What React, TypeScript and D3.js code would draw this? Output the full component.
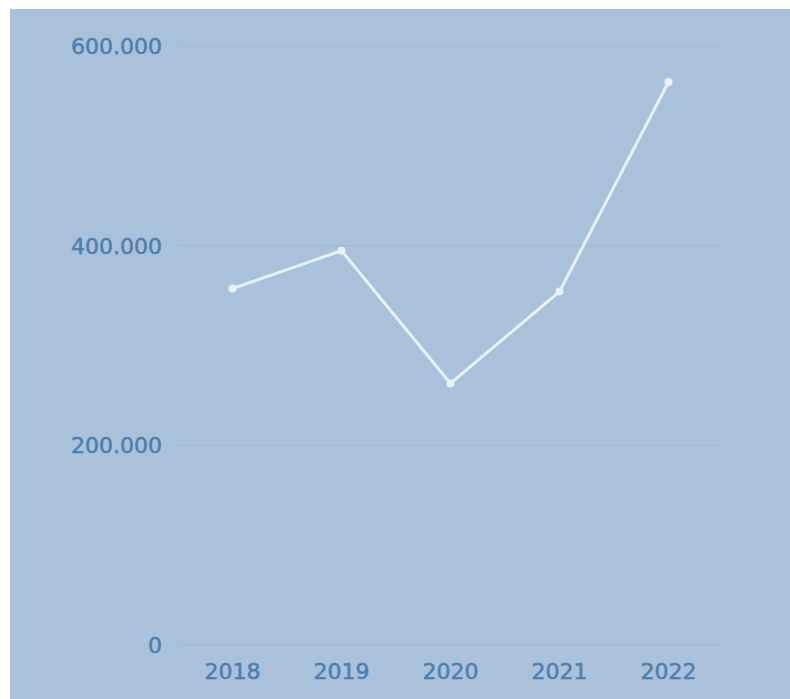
import React from "react";
import * as d3 from "d3";

const years = ["2018", "2019", "2020", "2021", "2022"];
const values = [357000, 395000, 262000, 354000, 564000];
const yTicks = [0, 200000, 400000, 600000];
const yTickLabels = ["0", "200.000", "400.000", "600.000"];

export default function App() {
  const W = 790, H = 699;
  const left = 178, right = 723, top = 46, bottom = 645;
  const x = d3.scaleBand<string>().domain(years).range([left, right]).padding(0);
  const y = d3.scaleLinear().domain([0, 600000]).range([bottom, top]);
  const cx = (d: string) => (x(d) ?? 0) + x.bandwidth() / 2;
  const line = d3.line<number>().x((_, i) => cx(years[i])).y((v) => y(v));
  const font = "'DejaVu Sans', sans-serif";
  const textColor = "#4d7eaf";
  return (
    <svg width={W} height={H} style={{ position: "absolute", left: 0, top: 0 }}>
      <rect x={0} y={0} width={W} height={H} fill="#ffffff" />
      <rect x={10} y={9} width={W - 10} height={H - 9} fill="#a9c1da" />
      {yTicks.map((t, i) => (
        <g key={t}>
          <line x1={left} x2={right} y1={y(t)} y2={y(t)} stroke="#9fb8d2" strokeWidth={1} />
          <text x={162} y={y(t)} dy="0.36em" textAnchor="end" fontFamily={font} fontSize={22}
            fill={textColor} stroke={textColor} strokeWidth={0.5}>
            {yTickLabels[i]}
          </text>
        </g>
      ))}
      {years.map((yr) => (
        <text key={yr} x={cx(yr)} y={679} textAnchor="middle" fontFamily={font} fontSize={22}
          fill={textColor} stroke={textColor} strokeWidth={0.5}>
          {yr}
        </text>
      ))}
      <path d={line(values) ?? ""} fill="none" stroke="#e9f1f8" strokeWidth={3} strokeLinejoin="round" />
      {values.map((v, i) => (
        <circle key={i} cx={cx(years[i])} cy={y(v)} r={4} fill="#e9f1f8" />
      ))}
    </svg>
  );
}
